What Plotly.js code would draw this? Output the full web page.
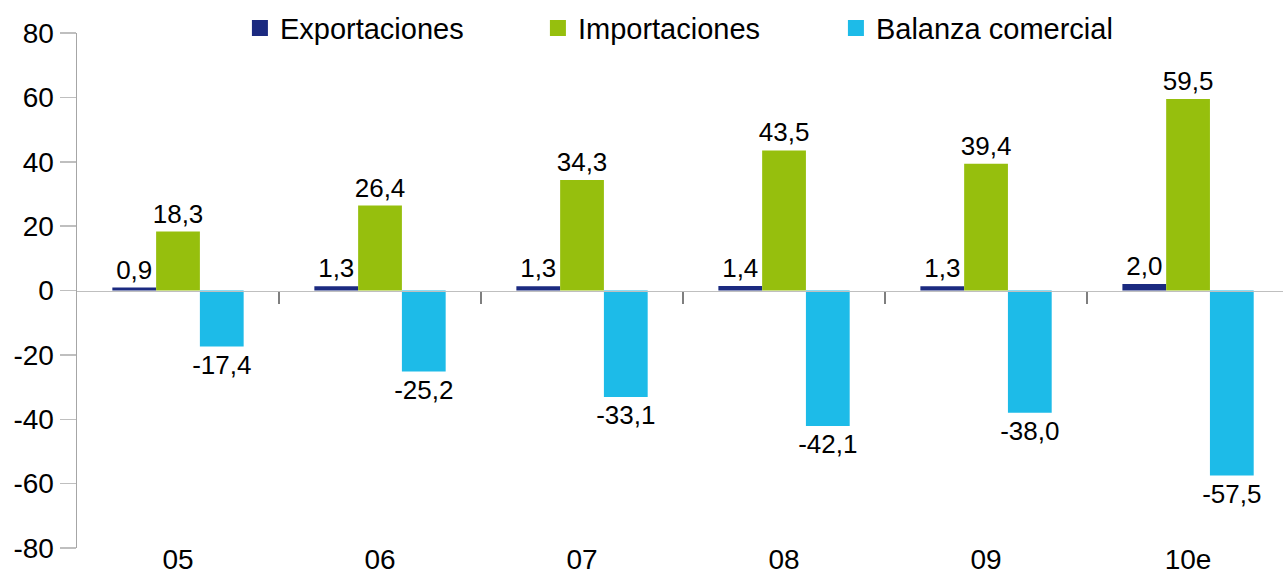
<!DOCTYPE html>
<html>
<head>
<meta charset="utf-8">
<script src="https://cdn.plot.ly/plotly-3.0.1.min.js"></script>
<style>html,body{margin:0;padding:0;background:#fff;}#chart{width:1283px;height:574px;}</style>
</head>
<body>
<div id="chart"></div>
<script>
const categories = ["05", "06", "07", "08", "09", "10e"];
const exportaciones = [0.9, 1.3, 1.3, 1.4, 1.3, 2.0];
const importaciones = [18.3, 26.4, 34.3, 43.5, 39.4, 59.5];
const balanza = [-17.4, -25.2, -33.1, -42.1, -38.0, -57.5];
const seriesNames = ["Exportaciones", "Importaciones", "Balanza comercial"];
const seriesColors = ["#1b2a80", "#96bf0d", "#1dbbe8"];
const yTicks = [-80, -60, -40, -20, 0, 20, 40, 60, 80];
const yTickLabels = ["-80", "-60", "-40", "-20", "0", "20", "40", "60", "80"];

const idx = categories.map((c, i) => i);
const fmt = v => v.toFixed(1).replace('.', ',');
const labelFont = {family: 'Liberation Sans, Arial, sans-serif', size: 26, color: '#000'};

function barTrace(name, vals, color) {
  return {
    type: 'bar', name: name, x: idx, y: vals, showlegend: false,
    marker: {color: color, line: {width: 0}},
    text: vals.map(fmt), textposition: 'outside', cliponaxis: false,
    constraintext: 'none',
    textfont: labelFont, hoverinfo: 'skip'
  };
}
function legendTrace(name, color) {
  return {
    type: 'scatter', mode: 'markers', name: name, x: [null], y: [null],
    marker: {symbol: 'square', size: 22, color: color}, hoverinfo: 'skip'
  };
}

const seriesValues = [exportaciones, importaciones, balanza];
const data = seriesValues.map((v, i) => barTrace(seriesNames[i], v, seriesColors[i]))
  .concat(seriesNames.map((n, i) => legendTrace(n, seriesColors[i])))
  .concat([{type: 'scatter', x: [0], y: [0], xaxis: 'x2', mode: 'markers',
    marker: {opacity: 0}, showlegend: false, hoverinfo: 'skip'}]);

const xr = [-0.5, 5.47];
const layout = {
  width: 1283, height: 574,
  margin: {l: 77, r: 0, t: 33, b: 26, autoexpand: false},
  paper_bgcolor: '#fff', plot_bgcolor: '#fff',
  font: {family: 'Liberation Sans, Arial, sans-serif', color: '#000'},
  barmode: 'group', bargap: 0.35, bargroupgap: 0,
  showlegend: true,
  legend: {orientation: 'h', xref: 'container', yref: 'container',
    x: 0.187, y: 0.951, xanchor: 'left', yanchor: 'middle',
    font: {size: 29, color: '#000'}, entrywidth: 253, bgcolor: 'rgba(0,0,0,0)'},
  xaxis: {range: xr, tickvals: idx, ticktext: categories, showgrid: false,
    zeroline: false, showline: false, ticks: '', ticklen: 0,
    ticklabelstandoff: -8,
    tickfont: {size: 28, color: '#000'}},
  xaxis2: {overlaying: 'x', anchor: 'free', position: 0.5, range: xr,
    tickvals: [0.5, 1.5, 2.5, 3.5, 4.5], showticklabels: false,
    ticks: 'outside', ticklen: 12, tickcolor: '#7f7f7f', tickwidth: 1.5,
    showline: true, linecolor: '#bfbfbf', linewidth: 1.5, showgrid: false, zeroline: false},
  yaxis: {range: [-80, 80], tickvals: yTicks, ticktext: yTickLabels, showgrid: false, zeroline: false,
    showline: true, linecolor: '#a6a6a6', linewidth: 1.5,
    ticks: 'outside', ticklen: 16, tickcolor: '#bfbfbf', tickwidth: 1.5,
    tickfont: {size: 28, color: '#000'}}
};

Plotly.newPlot('chart', data, layout, {displayModeBar: false, staticPlot: true});
</script>
</body>
</html>
